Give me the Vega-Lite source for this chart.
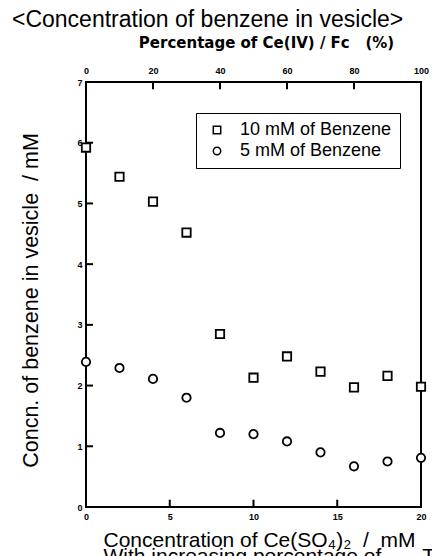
{
  "$schema": "https://vega.github.io/schema/vega-lite/v6.json",
  "width": 335,
  "height": 425,
  "autosize": "none",
  "padding": {"left": 86, "top": 82, "right": 11, "bottom": 49},
  "background": "white",
  "title": {
    "text": "<Concentration of benzene in vesicle>",
    "font": "Liberation Sans",
    "fontSize": 23,
    "fontWeight": "normal",
    "color": "black",
    "anchor": "start",
    "frame": "group",
    "dx": -74,
    "dy": 1,
    "offset": 4
  },
  "config": {
    "view": {"stroke": "black", "strokeWidth": 2},
    "axis": {
      "domain": false,
      "grid": false,
      "ticks": false,
      "labelFont": "Liberation Sans",
      "labelFontWeight": "bold",
      "labelFontSize": 9,
      "labelColor": "black",
      "titleFont": "Liberation Sans",
      "titleFontWeight": "normal",
      "titleColor": "black",
      "labelFlush": false,
      "labelOverlap": false
    }
  },
  "datasets": {
    "benzene": [
      {"conc": 0, "value": 5.92, "series": "10 mM of Benzene"},
      {"conc": 2, "value": 5.44, "series": "10 mM of Benzene"},
      {"conc": 4, "value": 5.03, "series": "10 mM of Benzene"},
      {"conc": 6, "value": 4.52, "series": "10 mM of Benzene"},
      {"conc": 8, "value": 2.85, "series": "10 mM of Benzene"},
      {"conc": 10, "value": 2.13, "series": "10 mM of Benzene"},
      {"conc": 12, "value": 2.48, "series": "10 mM of Benzene"},
      {"conc": 14, "value": 2.23, "series": "10 mM of Benzene"},
      {"conc": 16, "value": 1.97, "series": "10 mM of Benzene"},
      {"conc": 18, "value": 2.16, "series": "10 mM of Benzene"},
      {"conc": 20, "value": 1.98, "series": "10 mM of Benzene"},
      {"conc": 0, "value": 2.39, "series": "5 mM of Benzene"},
      {"conc": 2, "value": 2.29, "series": "5 mM of Benzene"},
      {"conc": 4, "value": 2.11, "series": "5 mM of Benzene"},
      {"conc": 6, "value": 1.8, "series": "5 mM of Benzene"},
      {"conc": 8, "value": 1.22, "series": "5 mM of Benzene"},
      {"conc": 10, "value": 1.2, "series": "5 mM of Benzene"},
      {"conc": 12, "value": 1.08, "series": "5 mM of Benzene"},
      {"conc": 14, "value": 0.9, "series": "5 mM of Benzene"},
      {"conc": 16, "value": 0.67, "series": "5 mM of Benzene"},
      {"conc": 18, "value": 0.75, "series": "5 mM of Benzene"},
      {"conc": 20, "value": 0.81, "series": "5 mM of Benzene"}
    ],
    "yTicks": [{"t": 1}, {"t": 2}, {"t": 3}, {"t": 4}, {"t": 5}, {"t": 6}],
    "xTicks": [{"t": 5}, {"t": 10}, {"t": 15}],
    "pctTicks": [{"t": 4}, {"t": 8}, {"t": 12}, {"t": 16}]
  },
  "resolve": {"axis": {"x": "independent"}},
  "layer": [
    {
      "data": {"name": "benzene"},
      "mark": {"type": "point", "filled": true, "fill": "white", "stroke": "black", "strokeWidth": 1.8, "size": 70, "opacity": 1},
      "encoding": {
        "x": {
          "field": "conc",
          "type": "quantitative",
          "scale": {"domain": [0, 20], "nice": false, "zero": false},
          "axis": {
            "orient": "bottom",
            "values": [0, 5, 10, 15, 20],
            "format": "d",
            "labelPadding": 5,
            "title": ["Concentration of Ce(SO₄)₂\u00a0\u00a0/\u00a0\u00a0mM", "With increasing percentage of\u00a0\u00a0\u00a0\u00a0\u00a0\u00a0\u00a0T"],
            "titleFontSize": 21,
            "titleAlign": "left",
            "titleAnchor": "start",
            "titleX": 17,
            "titleLineHeight": 16,
            "titlePadding": 8
          }
        },
        "y": {
          "field": "value",
          "type": "quantitative",
          "scale": {"domain": [0, 7], "nice": false, "zero": false},
          "axis": {
            "values": [0, 1, 2, 3, 4, 5, 6, 7],
            "format": "d",
            "labelPadding": 4,
            "title": "Concn. of benzene in vesicle\u00a0\u00a0/ mM",
            "titleFontSize": 21.5,
            "titleX": -55,
            "titleY": 218,
            "titleAngle": -90,
            "titleBaseline": "middle"
          }
        },
        "shape": {
          "field": "series",
          "type": "nominal",
          "scale": {"domain": ["10 mM of Benzene", "5 mM of Benzene"], "range": ["square", "circle"]},
          "legend": {
            "title": null,
            "orient": "none",
            "legendX": 110,
            "legendY": 31,
            "strokeColor": "black",
            "fillColor": "white",
            "padding": 8,
            "rowPadding": 3,
            "symbolSize": 55,
            "symbolOffset": 4,
            "labelFont": "Liberation Sans",
            "labelFontSize": 18,
            "labelColor": "black",
            "labelOffset": 14,
            "labelLimit": 400,
            "encode": {
              "legend": {"update": {"strokeWidth": {"value": 1.5}}},
              "symbols": {"update": {"stroke": {"value": "black"}, "fill": {"value": "white"}, "strokeWidth": {"value": 1.8}, "opacity": {"value": 1}}}
            }
          }
        }
      }
    },
    {
      "data": {"name": "benzene"},
      "mark": {"type": "point", "opacity": 0},
      "encoding": {
        "x": {
          "field": "conc",
          "type": "quantitative",
          "axis": {
            "orient": "top",
            "values": [0, 4, 8, 12, 16, 20],
            "labelExpr": "format(datum.value * 5, 'd')",
            "labelPadding": 7,
            "title": "Percentage of Ce(IV) / Fc\u00a0\u00a0\u00a0(%)",
            "titleFont": "DejaVu Sans",
            "titleFontSize": 15,
            "titleFontWeight": "bold",
            "titleX": 180,
            "titleY": -35,
            "titleAlign": "center",
            "titleBaseline": "alphabetic"
          }
        }
      }
    },
    {
      "data": {"name": "yTicks"},
      "mark": {"type": "tick", "orient": "horizontal", "size": 7, "thickness": 2, "color": "black", "opacity": 1, "xOffset": 3.5},
      "encoding": {
        "x": {"datum": 0, "type": "quantitative", "axis": null},
        "y": {"field": "t", "type": "quantitative"}
      }
    },
    {
      "data": {"name": "xTicks"},
      "mark": {"type": "rule", "strokeWidth": 2, "color": "black", "opacity": 1},
      "encoding": {
        "x": {"field": "t", "type": "quantitative", "axis": null},
        "y": {"datum": 0, "type": "quantitative"},
        "y2": {"datum": 0.12}
      }
    },
    {
      "data": {"name": "pctTicks"},
      "mark": {"type": "rule", "strokeWidth": 2, "color": "black", "opacity": 1},
      "encoding": {
        "x": {"field": "t", "type": "quantitative", "axis": null},
        "y": {"datum": 7, "type": "quantitative"},
        "y2": {"datum": 6.88}
      }
    }
  ]
}
